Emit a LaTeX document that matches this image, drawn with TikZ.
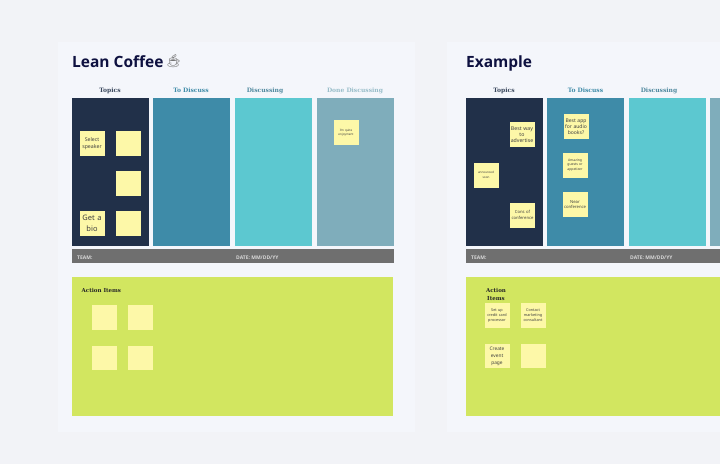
\documentclass[tikz,border=0pt]{standalone}
\usepackage{fontspec}
\setmainfont{Noto Sans}
\newfontfamily\titlefont{Open Sans}
\newfontfamily\serifhead{DejaVu Serif}
\newfontfamily\emojifont{Noto Emoji}
\definecolor{pagebg}{HTML}{F2F3F7}
\definecolor{panelbg}{HTML}{F4F6FB}
\definecolor{navy}{HTML}{213049}
\definecolor{teal}{HTML}{3E8BA8}
\definecolor{aqua}{HTML}{5CC8D0}
\definecolor{slate}{HTML}{7FADBB}
\definecolor{barg}{HTML}{6F6F6F}
\definecolor{lime}{HTML}{D2E660}
\definecolor{stickyc}{HTML}{FDF8A8}
\definecolor{ink}{HTML}{0E1140}
\tikzset{
  x=1pt,y=-1pt,
  sticky/.style={fill=stickyc,draw=none,inner sep=0.5pt,minimum width=25pt,minimum height=25pt,text width=24pt,align=center,text=black!75,font=\fontsize{5}{7}\selectfont},
  stickytiny/.style={sticky,font=\fontsize{3}{4.5}\selectfont},
  actionnote/.style={sticky,minimum width=24.5pt,minimum height=24.5pt},
  head/.style={font=\serifhead\bfseries\fontsize{6}{7}\selectfont,inner sep=0pt,anchor=base},
  bartext/.style={font=\titlefont\bfseries\fontsize{5}{6}\selectfont,text=white!85!black,inner sep=0pt,anchor=base west},
  titletext/.style={font=\titlefont\bfseries\fontsize{15.5}{18}\selectfont,text=ink,inner sep=0pt,anchor=base west},
  actionhead/.style={font=\serifhead\bfseries\fontsize{5.5}{8}\selectfont,text=black!85,inner sep=0pt,align=center}
}
\newcommand{\boxat}[6]{\fill[#6] (#2,#3) rectangle (#4,#5) coordinate (#1);}
\begin{document}
\begin{tikzpicture}
\useasboundingbox (0,0) rectangle (720,464);
\fill[pagebg] (0,0) rectangle (720,464);
\boxat{p1}{58}{42}{415}{432}{panelbg}
\boxat{p2}{447}{42}{720}{432}{panelbg}
% left board
\boxat{a1}{71.5}{98}{148.5}{246}{navy}
\boxat{a2}{153}{98}{230}{246}{teal}
\boxat{a3}{235}{98}{312}{246}{aqua}
\boxat{a4}{316.5}{98}{393.5}{246}{slate}
\boxat{a5}{71.5}{249}{393.5}{263}{barg}
\boxat{a6}{72}{277}{393}{416}{lime}
% right board
\boxat{b1}{465.5}{98}{542.5}{246}{navy}
\boxat{b2}{547}{98}{624}{246}{teal}
\boxat{b3}{629}{98}{706}{246}{aqua}
\boxat{b4}{710}{98}{720}{246}{slate}
\boxat{b5}{465.5}{249}{720}{263}{barg}
\boxat{b6}{465.5}{277}{720}{416}{lime}
% titles
\node[titletext] (t1) at (72,67) {Lean Coffee};
\node[inner sep=0pt,text=black!55,font=\emojifont\fontsize{13}{15}\selectfont] (cup) at (173.5,61) {☕};
\node[titletext] (t2) at (466,67) {Example};
% headers
\node[head,text=navy!90] (h1) at (110,92.5) {Topics};
\node[head,text=teal] (h2) at (191,92.5) {To Discuss};
\node[head,text=teal!75!gray] (h3) at (265,92.5) {Discussing};
\node[head,text=slate!80!white] (h4) at (355,92.5) {Done Discussing};
\node[head,text=navy!90] (h5) at (504,92.5) {Topics};
\node[head,text=teal] (h6) at (585.5,92.5) {To Discuss};
\node[head,text=teal!75!gray] (h7) at (659,92.5) {Discussing};
% bars
\node[bartext] (l1) at (77,259) {TEAM:};
\node[bartext] (l2) at (236,259) {DATE: MM/DD/YY};
\node[bartext] (l3) at (471,259) {TEAM:};
\node[bartext] (l4) at (630,259) {DATE: MM/DD/YY};
% left stickies
\node[sticky,font=\fontsize{5.2}{7.5}\selectfont] (s1) at (92,143.5) {Select\\speaker};
\node[sticky] (s2) at (128.5,143.5) {};
\node[sticky] (s3) at (128.5,183.5) {};
\node[sticky,font=\fontsize{7.5}{11}\selectfont] (s4) at (92,223.5) {Get a\\bio};
\node[sticky] (s5) at (128.5,223.5) {};
\node[stickytiny] (s6) at (346,132.5) {I'm quite\\enjoyment};
% right stickies
\node[sticky,font=\fontsize{5.2}{6.3}\selectfont] (r1) at (522,134.5) {Best way\\to\\advertise};
\node[stickytiny] (r2) at (486,175) {announced\\soon};
\node[sticky,font=\fontsize{4.2}{5.2}\selectfont] (r3) at (522.5,215) {Cons of\\conference};
\node[sticky,font=\fontsize{5}{6.2}\selectfont] (r4) at (576,126.5) {Best app\\for audio\\books?};
\node[sticky,font=\fontsize{3.4}{4.7}\selectfont] (r5) at (575,165) {Amazing\\guests or\\appetizer};
\node[sticky,font=\fontsize{4.2}{5.2}\selectfont] (r6) at (575,204.5) {Near\\conference};
% action items left
\node[actionhead,anchor=west] (x1) at (81.5,290.5) {Action Items};
\node[actionnote] (c1) at (104,317.5) {};
\node[actionnote] (c2) at (140,317.5) {};
\node[actionnote] (c3) at (104,358) {};
\node[actionnote] (c4) at (140,358) {};
% action items right
\node[actionhead] (x2) at (496,294) {Action\\Items};
\node[actionnote,font=\fontsize{3.8}{5}\selectfont] (d1) at (497,315.5) {Set up\\credit card\\processor};
\node[actionnote,font=\fontsize{3.8}{5}\selectfont] (d2) at (533,315.5) {Contact\\marketing\\consultant};
\node[actionnote,font=\fontsize{4.8}{7}\selectfont] (d3) at (497,356) {Create\\event\\page};
\node[actionnote] (d4) at (533,356) {};
\end{tikzpicture}
\end{document}
